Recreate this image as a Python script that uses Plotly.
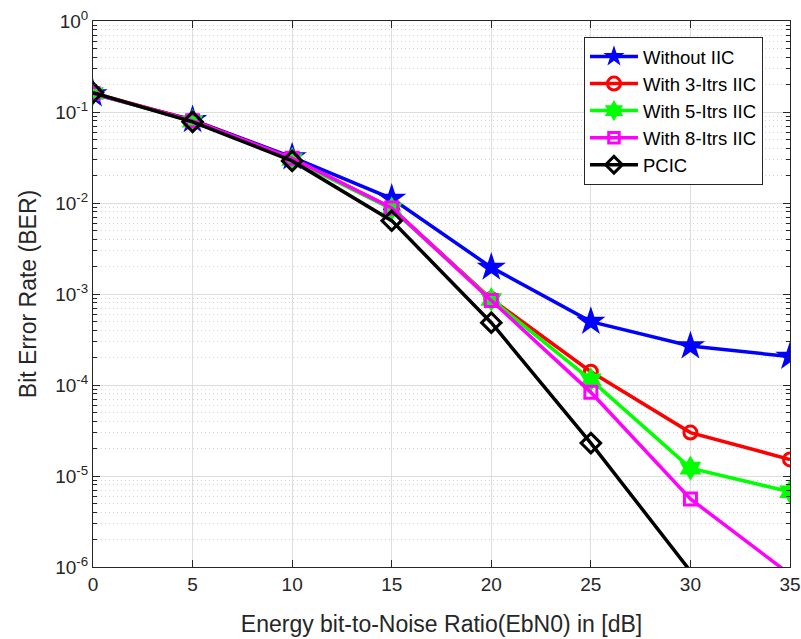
import plotly.graph_objects as go

ebn0 = [0, 5, 10, 15, 20, 25, 30, 35]
ber_without = [0.158, 0.082, 0.032, 0.0112, 0.00196, 0.000497, 0.000268, 0.000205]
ber_3itr = [0.162, 0.081, 0.031, 0.0088, 0.00088, 0.00014, 0.000030, 0.0000152]
ber_5itr = [0.160, 0.079, 0.030, 0.0086, 0.00087, 0.000114, 0.0000122, 0.0000067]
ber_8itr = [0.160, 0.080, 0.031, 0.0088, 0.00085, 0.000083, 0.0000056, 0.00000083]
ber_pcic = [0.163, 0.078, 0.029, 0.0064, 0.000484, 0.000023, 0.0000009]
ebn0_pcic = [0, 5, 10, 15, 20, 25, 30]

names = ["Without IIC", "With 3-Itrs IIC", "With 5-Itrs IIC", "With 8-Itrs IIC", "PCIC"]
ytick_vals = [1, 0.1, 0.01, 0.001, 0.0001, 0.00001, 0.000001]
ytick_text = ["10<sup>0</sup>", "10<sup>-1</sup>", "10<sup>-2</sup>", "10<sup>-3</sup>",
              "10<sup>-4</sup>", "10<sup>-5</sup>", "10<sup>-6</sup>"]
YMIN = 1e-6

styles = [
    dict(color="#0000ff", symbol="star", size=22, lw=0),
    dict(color="#ff0000", symbol="circle-open", size=13, lw=3),
    dict(color="#00ff00", symbol="hexagram", size=19, lw=0),
    dict(color="#ff00ff", symbol="square-open", size=12, lw=3),
    dict(color="#000000", symbol="diamond-open", size=15, lw=3),
]
series = [(ebn0, ber_without), (ebn0, ber_3itr), (ebn0, ber_5itr), (ebn0, ber_8itr), (ebn0_pcic, ber_pcic)]

FONT = "Liberation Sans, Arial"

fig = go.Figure()
for i, ((xs, ys), nm, st) in enumerate(zip(series, names, styles)):
    sizes = [st["size"] if v >= YMIN else 0 for v in ys]
    fig.add_trace(go.Scatter(
        x=xs, y=ys, name=nm, mode="lines+markers", legendgroup=f"g{i}",
        line=dict(color=st["color"], width=3.5),
        marker=dict(symbol=st["symbol"], size=sizes, color=st["color"], opacity=1,
                    line=dict(color=st["color"], width=st["lw"])),
    ))

axis_common = dict(
    showline=True, linecolor="#262626", linewidth=1, mirror="ticks",
    ticks="inside", ticklen=7, tickcolor="#262626", automargin=False,
    showgrid=True, gridcolor="#dedede", gridwidth=1, zeroline=False,
    ticklabeloverflow="allow",
    tickfont=dict(family=FONT, size=19, color="#262626"),
)

fig.update_xaxes(range=[0, 35], tickvals=ebn0, ticktext=[str(v) for v in ebn0],
                 title=dict(text="Energy bit-to-Noise Ratio(EbN0) in [dB]",
                            font=dict(family=FONT, size=23, color="#262626"),
                            standoff=22),
                 **axis_common)
fig.update_yaxes(type="log", range=[-6, 0], tickvals=ytick_vals, ticktext=ytick_text,
                 title=dict(text="Bit Error Rate (BER)",
                            font=dict(family=FONT, size=23, color="#262626"),
                            standoff=12),
                 minor=dict(ticks="inside", ticklen=4, tickcolor="#262626", dtick="D1",
                            showgrid=True, gridcolor="#d4d4d4", griddash="1px,3px", gridwidth=1),
                 **axis_common)

fig.update_layout(
    width=801, height=639,
    margin=dict(l=93, r=11, t=21, b=72),
    plot_bgcolor="white", paper_bgcolor="white",
    font=dict(family=FONT, color="#000000"),
    legend=dict(x=0.7044, y=0.9707, xanchor="left", yanchor="top",
                bgcolor="white", bordercolor="#262626", borderwidth=1,
                font=dict(family=FONT, size=18.5, color="#000000"),
                tracegroupgap=0, itemwidth=48),
    showlegend=True,
)

# remove the page's default 8px body margin so the figure sits at the window origin
fig.write_html("out.html", config={"displayModeBar": False},
               post_script="document.body.style.margin='0px';")
